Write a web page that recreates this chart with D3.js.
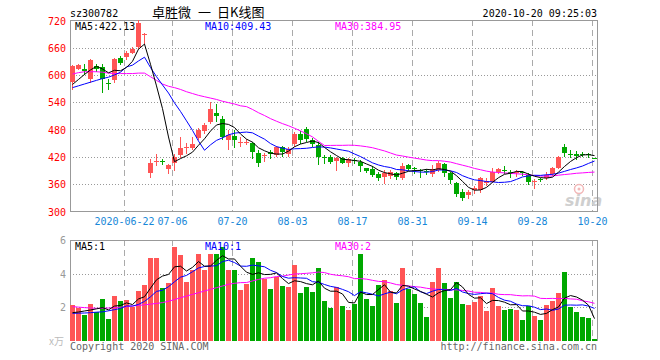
<!DOCTYPE html>
<html><head><meta charset="utf-8">
<script src="https://cdn.jsdelivr.net/npm/d3@7"></script>
<style>body{margin:0;background:#fff}svg{display:block}</style>
</head><body>
<svg id="c" width="660" height="360"></svg>
<script>
const dates = [
"2020-06-09","2020-06-10","2020-06-11","2020-06-12","2020-06-15","2020-06-16","2020-06-17","2020-06-18","2020-06-19","2020-06-22",
"2020-06-23","2020-06-24","2020-06-29","2020-06-30","2020-07-01","2020-07-02","2020-07-03","2020-07-06","2020-07-07","2020-07-08",
"2020-07-09","2020-07-10","2020-07-13","2020-07-14","2020-07-15","2020-07-16","2020-07-17","2020-07-20","2020-07-21","2020-07-22",
"2020-07-23","2020-07-24","2020-07-27","2020-07-28","2020-07-29","2020-07-30","2020-07-31","2020-08-03","2020-08-04","2020-08-05",
"2020-08-06","2020-08-07","2020-08-10","2020-08-11","2020-08-12","2020-08-13","2020-08-14","2020-08-17","2020-08-18","2020-08-19",
"2020-08-20","2020-08-21","2020-08-24","2020-08-25","2020-08-26","2020-08-27","2020-08-28","2020-08-31","2020-09-01","2020-09-02",
"2020-09-03","2020-09-04","2020-09-07","2020-09-08","2020-09-09","2020-09-10","2020-09-11","2020-09-14","2020-09-15","2020-09-16",
"2020-09-17","2020-09-18","2020-09-21","2020-09-22","2020-09-23","2020-09-24","2020-09-25","2020-09-28","2020-09-29","2020-09-30",
"2020-10-09","2020-10-12","2020-10-13","2020-10-14","2020-10-15","2020-10-16","2020-10-19","2020-10-20"];

const opens = [584,614,614,590,620,617,582,588,638,640, 649,661,687,385,410,410,393,406,423,439,
 440,461,476,496,516,502,456,466,451,451, 450,428,421,430,424,441,425,449,470,481,
 457,446,420,420,411,417,407,412,409,394, 393,382,375,378,384,374,402,394,390,389,
 382,391,404,384,363,343,335,346,346,363, 365,386,391,386,383,386,380,364,371,372,
 382,396,442,426,425,426,425,418];
const highs = [622,624,623,634,625,625,590,638,641,653, 661,720,692,416,426,415,404,425,463,450,
 463,483,494,540,537,510,479,478,464,460, 453,435,428,435,444,443,442,474,476,485,
 461,452,424,423,420,420,417,418,413,396, 400,387,390,390,387,407,404,398,392,393,
 402,410,407,386,365,348,346,356,375,372, 394,395,400,390,390,389,384,371,374,387,
 398,421,447,435,433,431,429,418];
const lows = [569,612,603,585,608,563,569,585,625,636, 648,660,668,376,402,403,383,391,420,428,
 436,459,473,494,498,459,436,442,444,447, 417,400,410,417,421,422,421,444,451,455,
 443,404,407,407,391,405,400,406,389,387, 377,369,363,372,370,370,391,385,376,381,
 377,389,378,363,333,324,328,340,343,358, 364,383,384,376,378,380,360,351,366,370,
 380,395,422,420,416,421,420,418];
const closes = [619,622,608,632,613,590,580,636,627,649, 658,714,691,405,411,408,402,419,439,442,
 448,478,490,524,509,464,468,456,453,452, 431,406,423,427,442,431,438,471,457,459,
 448,420,418,409,418,407,414,410,400,389, 380,372,384,387,375,400,393,393,388,387,
 393,407,384,369,338,330,342,352,372,366, 386,393,389,384,386,384,365,366,369,380,
 395,420,428,424,422,425,423,418];
// volume, x 10^4
const volumes = [2.13,1.95,1.53,2.19,1.69,2.49,1.29,2.66,2.37,2.45, 2.0,2.96,3.32,4.93,4.93,3.12,3.44,5.59,5.11,3.50,
 4.21,5.17,4.21,5.17,5.17,5.59,4.21,4.21,3.02,3.38, 4.93,4.69,3.68,3.08,3.80,3.26,3.20,4.51,2.84,3.20,
 2.90,4.33,2.37,1.95,3.20,2.07,1.83,2.19,5.17,2.49, 2.07,3.32,3.62,2.96,2.25,4.33,3.08,2.78,2.25,1.41,
 3.50,4.33,3.44,2.54,3.50,2.19,2.13,2.31,2.66,1.77, 3.14,2.07,1.83,1.89,1.83,1.23,2.07,1.47,1.23,2.13,
 2.37,2.84,4.10,2.01,1.71,1.41,1.35,0.1];

// Moving-average values at the start of the window (earlier data not shown)
const ma5Head = [579,590,601,611];
const ma10Head = [572,576,580,584,588,592,595,600,606];
const ma30Head = [602,605,607,607,607,606,604,603,603,603,603,604,604,596,588,580,575,572,568,563,559,555,552,549,546,542,539,536,532];
const vma5Head = [1.67,1.71,1.77,1.83];
const vma10Head = [1.63,1.64,1.65,1.67,1.70,1.72,1.78,1.85,1.92];
const vma30Head = [2.03,2.0,1.97,1.95,1.93,1.93,1.95,1.97,2.0,2.03,2.07,2.1,2.14,2.18,2.22,2.27,2.35,2.45,2.56,2.66,2.76,2.86,2.96,3.06,3.16,3.26,3.36,3.42,3.46];

const tickDates = ["2020-06-22","2020-07-06","2020-07-20","2020-08-03","2020-08-17","2020-08-31","2020-09-14","2020-09-28","2020-10-20"];
const tickLabels = ["2020-06-22","07-06","07-20","08-03","08-17","08-31","09-14","09-28","10-20"];
const priceTicks = [300,360,420,480,540,600,660,720];
const volTicks = [2,4,6];

function movingAvg(arr, n, head){
  return arr.map((v,i)=> i < n-1 ? head[i] : d3.mean(arr.slice(i-n+1, i+1)));
}

const RED = "#ff5555", GREEN = "#00a800";
const MONO = "'DejaVu Sans Mono', monospace";
const svg = d3.select("#c");
const X0 = 70, X1 = 597, PT = 20, PB = 211, VT = 240, VB = 341;

const x = d3.scaleBand().domain(dates).range([X0, X1]).paddingInner(1/6).paddingOuter(0);
const yP = d3.scaleLinear().domain([300,720]).range([211.2, 20.4]);
const yV = d3.scaleLinear().domain([0,6]).range([340.7, 240]);
const cx = d => x(d) + 2.5;

const colorOf = i => closes[i] > opens[i] ? RED : closes[i] < opens[i] ? GREEN : (i>0 && closes[i] < closes[i-1] ? GREEN : RED);

// ---- grid
const g = svg.append("g").attr("shape-rendering","crispEdges");
priceTicks.filter(v=>v>300 && v<720).forEach(v=>{
  const yy = Math.round(yP(v)) + 0.5;
  g.append("line").attr("x1",X0).attr("x2",X1).attr("y1",yy).attr("y2",yy)
   .attr("stroke","#999").attr("stroke-dasharray","1,2");
});
volTicks.filter(v=>v<6).forEach(v=>{
  const yy = Math.round(yV(v)) + 0.5;
  g.append("line").attr("x1",X0).attr("x2",X1).attr("y1",yy).attr("y2",yy)
   .attr("stroke","#999").attr("stroke-dasharray","1,2");
});
tickDates.forEach(d=>{
  const xx = x(d) + 0.5;
  g.append("line").attr("x1",xx).attr("x2",xx).attr("y1",PT).attr("y2",PB)
   .attr("stroke","#aaa").attr("stroke-dasharray","6,4");
  g.append("line").attr("x1",xx).attr("x2",xx).attr("y1",VT).attr("y2",VB)
   .attr("stroke","#aaa").attr("stroke-dasharray","6,4");
});

// ---- sina watermark
const wm = svg.append("g");
wm.append("circle").attr("cx",579).attr("cy",189).attr("r",4.5).attr("fill","none").attr("stroke","#f2b8b8").attr("stroke-width",1.5);
wm.append("circle").attr("cx",579).attr("cy",189).attr("r",1.5).attr("fill","#f2b8b8");
wm.append("text").attr("x",565).attr("y",206).text("sina")
  .attr("font-family","'DejaVu Sans', sans-serif").attr("font-size",16).attr("font-weight","bold")
  .attr("font-style","italic").attr("fill","#cfcfcf");

// ---- borders
const b = svg.append("g").attr("shape-rendering","crispEdges").attr("fill","none").attr("stroke","#999");
b.append("rect").attr("x",X0+0.5).attr("y",PT+0.5).attr("width",X1-X0).attr("height",PB-PT);
b.append("path").attr("d",`M${X0+0.5},${VB}V${VT+0.5}H${X1+0.5}V${VB}`);

// ---- candles
const cg = svg.append("g").attr("shape-rendering","crispEdges");
dates.forEach((d,i)=>{
  const col = colorOf(i);
  cg.append("line").attr("x1",cx(d)).attr("x2",cx(d))
    .attr("y1",Math.round(yP(highs[i]))).attr("y2",Math.round(yP(lows[i]))+1)
    .attr("stroke",col);
  const top = Math.round(yP(Math.max(opens[i],closes[i])));
  const bot = Math.round(yP(Math.min(opens[i],closes[i])));
  cg.append("rect").attr("x",x(d)).attr("y",top).attr("width",x.bandwidth())
    .attr("height",Math.max(1,bot-top)).attr("fill",col);
});

// ---- volume bars
const vg = svg.append("g").attr("shape-rendering","crispEdges");
vg.selectAll("rect").data(volumes).join("rect")
  .attr("x",(v,i)=>x(dates[i])).attr("width",x.bandwidth())
  .attr("y",v=>Math.round(yV(v))).attr("height",v=>VB - Math.round(yV(v)))
  .attr("fill",(v,i)=>colorOf(i));

// ---- moving averages
const ma = [
  {vals: movingAvg(closes,5,ma5Head), col:"#000"},
  {vals: movingAvg(closes,10,ma10Head), col:"#0000ff"},
  {vals: movingAvg(closes,30,ma30Head), col:"#ff00ff"}
];
const vma = [
  {vals: movingAvg(volumes,5,vma5Head), col:"#000"},
  {vals: movingAvg(volumes,10,vma10Head), col:"#0000ff"},
  {vals: movingAvg(volumes,30,vma30Head), col:"#ff00ff"}
];
const lineP = d3.line().x((v,i)=>cx(dates[i])).y(v=>yP(v));
const lineV = d3.line().x((v,i)=>cx(dates[i])).y(v=>yV(v));
[...ma].reverse().forEach(m=> svg.append("path").attr("d",lineP(m.vals)).attr("fill","none").attr("stroke",m.col).attr("stroke-width",1));
[...vma].reverse().forEach(m=> svg.append("path").attr("d",lineV(m.vals)).attr("fill","none").attr("stroke",m.col).attr("stroke-width",1));

// ---- texts
const t = (xx,yy,s,opt={}) => svg.append("text").attr("x",xx).attr("y",yy).text(s)
  .attr("font-family",opt.ff||MONO).attr("font-size",opt.fs||10).attr("fill",opt.fill||"#000")
  .attr("text-anchor",opt.anchor||"start");

priceTicks.forEach(v=> t(66, yP(v)+4.3, String(v), {fill:"#ff0000", anchor:"end"}));
volTicks.forEach(v=> t(66, yV(v)+4.3, String(v), {fill:"#999", anchor:"end"}));
tickDates.forEach((d,i)=> t(x(d)+0.5, 225, tickLabels[i], {fill:"#1787d8", anchor:"middle"}));

t(70, 17, "sz300782");
const CJK = "'Noto Sans CJK SC', sans-serif";
t(152, 16.5, "卓胜微", {ff:CJK, fs:13});
t(198, 16.5, "一", {ff:CJK, fs:13});
t(217, 16.5, "日K线图", {ff:CJK, fs:13});
t(597, 17, "2020-10-20 09:25:03", {anchor:"end"});

t(75, 30, "MA5:422.13");
t(205, 30, "MA10:409.43", {fill:"#0000ff"});
t(335, 30, "MA30:384.95", {fill:"#ff00ff"});

t(75, 250, "MA5:1");
t(205, 250, "MA10:1", {fill:"#0000ff"});
t(335, 250, "MA30:2", {fill:"#ff00ff"});

t(49, 345, "x万", {ff:CJK, fs:10, fill:"#bbb"});
t(70, 350, "Copyright 2020 SINA.COM", {fill:"#666"});
t(597, 350, "http://finance.sina.com.cn", {fill:"#666", anchor:"end"});
</script>
</body></html>
